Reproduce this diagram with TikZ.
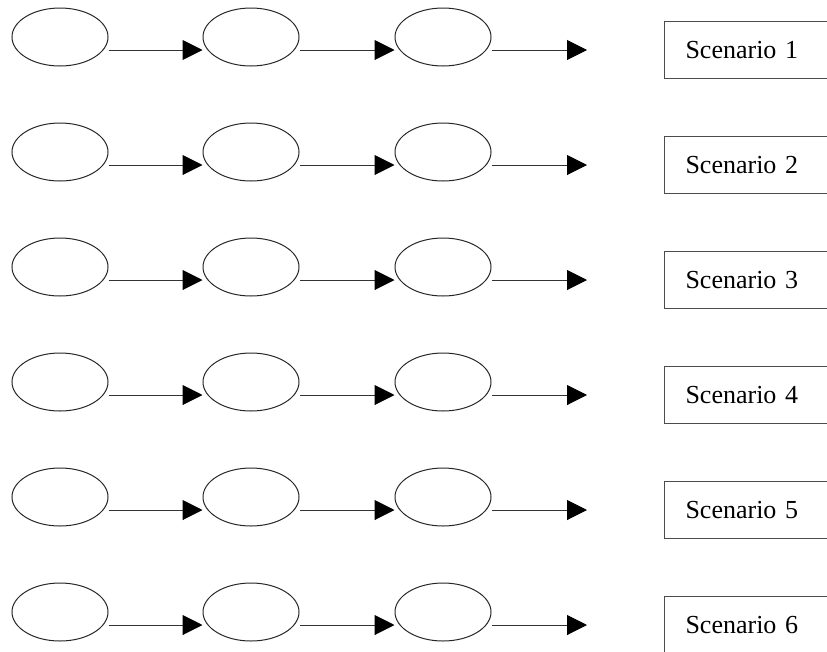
\documentclass[tikz,border=0pt]{standalone}
\usepackage{fontspec}
\setmainfont{Liberation Serif}
\usetikzlibrary{arrows.meta,shapes.geometric}
\begin{document}
\begin{tikzpicture}[x=1pt,y=-1pt,
  oval/.style={draw=black!85, ellipse, line width=1pt, minimum width=96pt, minimum height=58pt, inner sep=0pt},
  flow/.style={draw=black!80, line width=1pt, -{Triangle[length=20pt,width=20pt,color=black]}},
  scen/.style={draw=black!70, line width=1pt, rectangle, anchor=north west, minimum height=57pt, text width=138pt, align=left, inner xsep=21pt, inner ysep=0pt, font=\fontsize{26}{30}\selectfont}]
\useasboundingbox (0,0) rectangle (827,651);
\clip (0,0) rectangle (827,651);
\foreach \i in {0,...,5}{
  \node[oval] (a\i) at (60,{37+115*\i}) {};
  \node[oval] (b\i) at (251,{37+115*\i}) {};
  \node[oval] (c\i) at (443,{37+115*\i}) {};
  \coordinate (t\i) at (587,{50+115*\i});
  \pgfmathtruncatemacro{\n}{\i+1}
  \node[scen] (s\i) at (664,{21+115*\i}) {Scenario \n};
  \draw[flow] ([yshift=-13pt]a\i.east) -- ([yshift=-13pt]b\i.west);
  \draw[flow] ([yshift=-13pt]b\i.east) -- ([yshift=-13pt]c\i.west);
  \draw[flow] ([yshift=-13pt]c\i.east) -- (t\i);
}
\end{tikzpicture}
\end{document}
